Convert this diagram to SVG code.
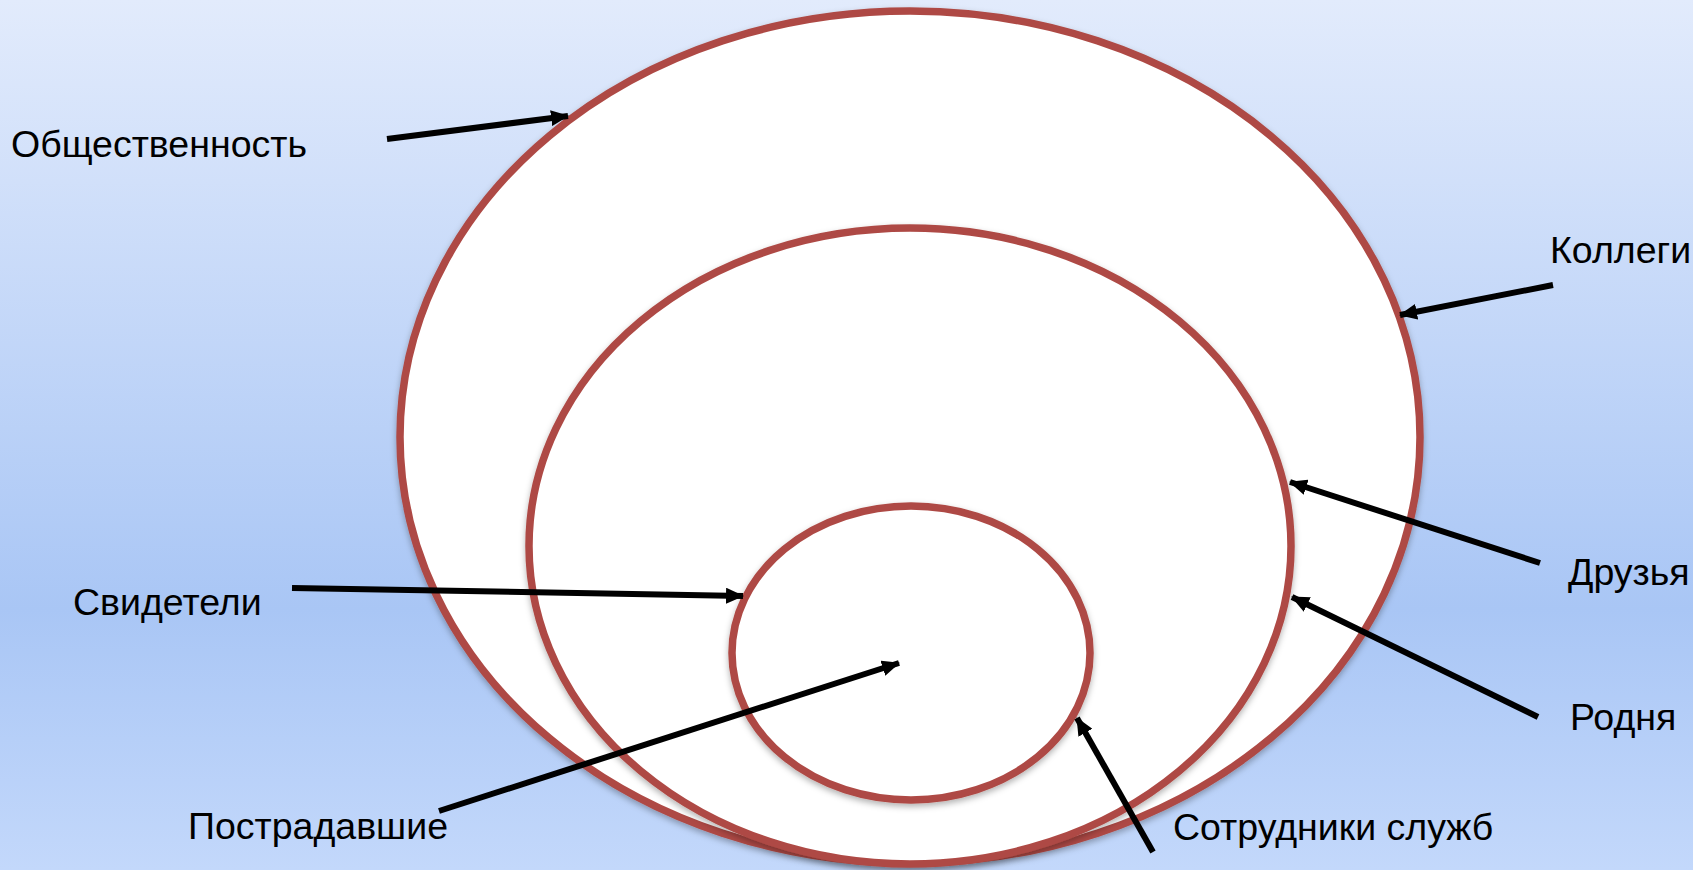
<svg xmlns="http://www.w3.org/2000/svg" width="1693" height="870" viewBox="0 0 1693 870">
  <defs>
    <linearGradient id="bg" x1="0" y1="0" x2="0" y2="1">
      <stop offset="0" stop-color="#e2ebfc"/>
      <stop offset="0.7" stop-color="#a9c6f5"/>
      <stop offset="1" stop-color="#c3d8fb"/>
    </linearGradient>
    <filter id="sh" x="-10%" y="-10%" width="120%" height="120%">
      <feDropShadow dx="0" dy="3" stdDeviation="3" flood-color="#000" flood-opacity="0.3"/>
    </filter>
    <marker id="ah" viewBox="0 0 18 16" refX="17" refY="8" markerWidth="18" markerHeight="16" markerUnits="userSpaceOnUse" orient="auto">
      <path d="M0,0 L18,8 L0,16 Z" fill="#000"/>
    </marker>
  </defs>
  <style>
    .ring { fill: #ffffff; stroke: #ae4a45; stroke-width: 7.5; filter: url(#sh); }
    .arr { stroke: #000; stroke-width: 6; fill: none; marker-end: url(#ah); }
    .lbl { font-family: "Liberation Sans", Arial, sans-serif; font-size: 37.5px; fill: #000; }
  </style>
  <rect x="0" y="0" width="1693" height="870" fill="url(#bg)"/>

  <g id="outer"><ellipse class="ring" cx="910" cy="437" rx="510" ry="426"/></g>
  <g id="middle"><ellipse class="ring" cx="910" cy="546" rx="381" ry="318"/></g>
  <g id="inner"><ellipse class="ring" cx="911" cy="653" rx="179" ry="147"/></g>

  <g id="connectors">
    <line class="arr" x1="387" y1="139" x2="568" y2="116"/>
    <line class="arr" x1="1553" y1="285" x2="1400" y2="315"/>
    <line class="arr" x1="1540" y1="563" x2="1290" y2="482"/>
    <line class="arr" x1="1538" y1="717" x2="1292" y2="597"/>
    <line class="arr" x1="1153" y1="852" x2="1077" y2="718"/>
    <line class="arr" x1="292" y1="588" x2="743" y2="596"/>
    <line class="arr" x1="439" y1="811" x2="899" y2="663"/>
  </g>

  <g id="label-obshchestvennost"><text class="lbl" x="11" y="157">Общественность</text></g>
  <g id="label-kollegi"><text class="lbl" x="1550" y="263">Коллеги</text></g>
  <g id="label-druzya"><text class="lbl" x="1568" y="585">Друзья</text></g>
  <g id="label-rodnya"><text class="lbl" x="1570" y="730">Родня</text></g>
  <g id="label-sotrudniki"><text class="lbl" x="1173" y="840">Сотрудники служб</text></g>
  <g id="label-svideteli"><text class="lbl" x="73" y="615">Свидетели</text></g>
  <g id="label-postradavshie"><text class="lbl" x="188" y="839">Пострадавшие</text></g>
</svg>
